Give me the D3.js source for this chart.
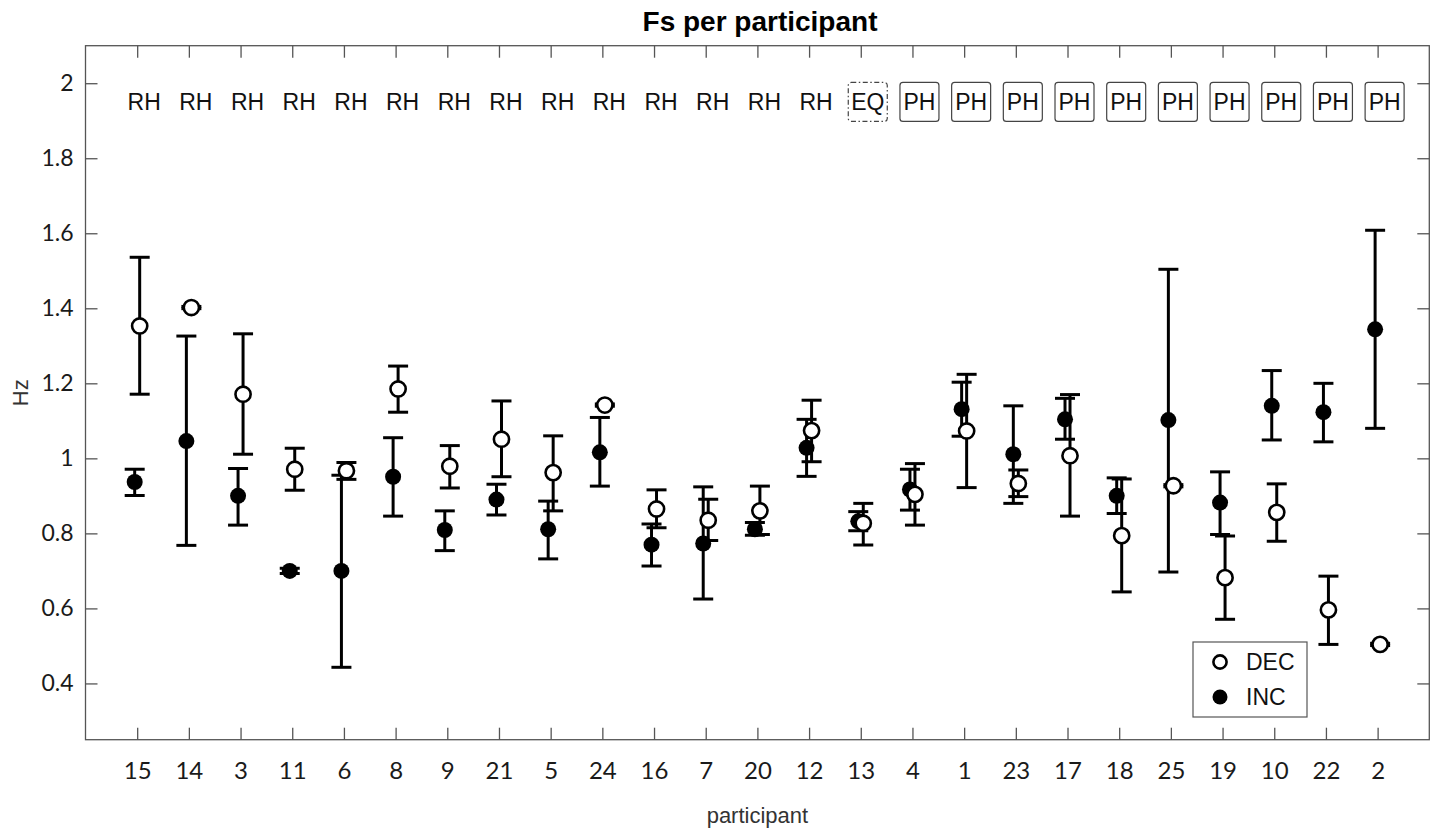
<!DOCTYPE html>
<html>
<head>
<meta charset="utf-8">
<script src="https://cdn.jsdelivr.net/npm/d3@7"></script>
<style>
  html, body { margin: 0; padding: 0; background: #fff; }
  svg { display: block; }
</style>
</head>
<body>
<svg id="chart" width="1434" height="828"></svg>
<script>
// ---- data ----
const participants = ["15","14","3","11","6","8","9","21","5","24","16","7","20","12","13","4","1","23","17","18","25","19","10","22","2"];
const groups = ["RH","RH","RH","RH","RH","RH","RH","RH","RH","RH","RH","RH","RH","RH","EQ","PH","PH","PH","PH","PH","PH","PH","PH","PH","PH"];

const decMean = [1.353,1.402,1.171,0.971,0.967,1.185,0.979,1.051,0.962,1.142,0.865,0.835,0.860,1.074,0.827,0.904,1.073,0.933,1.007,0.794,0.927,0.682,0.856,0.596,0.504];
const decLow  = [1.171,1.399,1.011,0.915,0.944,1.123,0.921,0.951,0.860,1.139,0.815,0.781,0.797,0.991,0.769,0.822,0.922,0.898,0.846,0.644,0.924,0.571,0.779,0.504,0.501];
const decHigh = [1.536,1.405,1.332,1.027,0.989,1.246,1.034,1.153,1.060,1.145,0.916,0.891,0.926,1.155,0.880,0.986,1.224,0.969,1.170,0.945,0.930,0.793,0.932,0.686,0.507];

const incMean = [0.937,1.046,0.900,0.700,0.700,0.951,0.809,0.890,0.811,1.016,0.770,0.773,0.811,1.028,0.832,0.917,1.131,1.011,1.104,0.900,1.102,0.882,1.140,1.123,1.344];
const incLow  = [0.901,0.768,0.822,0.693,0.443,0.846,0.754,0.849,0.732,0.926,0.713,0.625,0.795,0.952,0.807,0.862,1.059,0.880,1.051,0.853,0.697,0.797,1.049,1.044,1.080];
const incHigh = [0.971,1.326,0.973,0.707,0.955,1.055,0.860,0.931,0.886,1.109,0.825,0.924,0.829,1.104,0.858,0.971,1.203,1.140,1.160,0.948,1.504,0.964,1.234,1.200,1.608];

const yTicks = [0.4,0.6,0.8,1,1.2,1.4,1.6,1.8,2];
const yTickLabels = ["0.4","0.6","0.8","1","1.2","1.4","1.6","1.8","2"];
const seriesNames = ["DEC","INC"];

// ---- layout ----
const svg = d3.select("#chart");
const L = 85.5, R = 1429.3, T = 45.7, B = 739.7;
const x = d3.scaleLinear().domain([-1, 25]).range([L, R]);
const y = d3.scaleLinear().domain([0.25, 2.1]).range([B, T]);
const idx = d3.range(participants.length);
const axisColor = "#555";
const tickFont = "Lato, 'DejaVu Sans', sans-serif";
const textFont = "'Liberation Sans', Arial, sans-serif";

// frame
svg.append("rect").attr("x", L).attr("y", T).attr("width", R - L).attr("height", B - T)
  .attr("fill", "none").attr("stroke", axisColor).attr("stroke-width", 1.3);

// axes
function styleAxis(size) {
  return g => {
    g.select(".domain").remove();
    g.selectAll(".tick line").attr("stroke", axisColor).attr("stroke-width", 1.3);
    g.selectAll(".tick text").attr("fill", "#1a1a1a").style("font-family", tickFont).style("font-size", size + "px");
  };
}
svg.append("g").attr("transform", `translate(${L},0)`)
  .call(d3.axisLeft(y).tickValues(yTicks).tickFormat((d, i) => yTickLabels[i]).tickSize(-12).tickPadding(12))
  .call(styleAxis(23));
svg.append("g").attr("transform", `translate(${R},0)`)
  .call(d3.axisRight(y).tickValues(yTicks).tickFormat("").tickSize(-12))
  .call(styleAxis(23));
svg.append("g").attr("transform", `translate(0,${B})`)
  .call(d3.axisBottom(x).tickValues(idx).tickFormat(i => participants[i]).tickSize(-12).tickPadding(22))
  .call(styleAxis(24));
svg.append("g").attr("transform", `translate(0,${T})`)
  .call(d3.axisTop(x).tickValues(idx).tickFormat("").tickSize(-12))
  .call(styleAxis(24));

// group labels
const lblY = y(1.95);
const lab = svg.append("g");
idx.forEach(i => {
  const cx = x(i) + 7;
  if (groups[i] !== "RH") {
    lab.append("rect").attr("x", cx - 19.5).attr("y", lblY - 19.5).attr("width", 39).attr("height", 39)
      .attr("rx", 3).attr("fill", "none").attr("stroke", "#444").attr("stroke-width", 1.2)
      .attr("stroke-dasharray", groups[i] === "EQ" ? "5,2.5,1.5,2.5" : null);
  }
  lab.append("text").attr("x", cx).attr("y", lblY).attr("text-anchor", "middle")
    .attr("dominant-baseline", "central").style("font-family", textFont).style("font-size", "23px")
    .attr("fill", "#111").text(groups[i]);
});

// error bars + markers
const off = 2.5 / (x(1) - x(0));
function drawSeries(mean, low, high, dx, filled) {
  const g = svg.append("g");
  idx.forEach(i => {
    const cx = x(i + dx);
    g.append("line").attr("x1", cx).attr("x2", cx).attr("y1", y(low[i])).attr("y2", y(high[i]))
      .attr("stroke", "#000").attr("stroke-width", 3);
    [low[i], high[i]].forEach(v => {
      g.append("line").attr("x1", cx - 10).attr("x2", cx + 10).attr("y1", y(v)).attr("y2", y(v))
        .attr("stroke", "#000").attr("stroke-width", 3);
    });
  });
  g.selectAll("circle").data(idx).join("circle")
    .attr("cx", i => x(i + dx)).attr("cy", i => y(mean[i]))
    .attr("r", filled ? 8 : 7.6)
    .attr("fill", filled ? "#000" : "#fff")
    .attr("stroke", "#000").attr("stroke-width", filled ? 0 : 2.6);
}
drawSeries(incMean, incLow, incHigh, -off, true);
drawSeries(decMean, decLow, decHigh, off, false);

// legend
const lg = svg.append("g");
lg.append("rect").attr("x", 1193).attr("y", 642).attr("width", 114).attr("height", 75)
  .attr("fill", "#fff").attr("stroke", axisColor).attr("stroke-width", 1.2);
seriesNames.forEach((n, k) => {
  const cy = 662 + k * 35;
  lg.append("circle").attr("cx", 1220).attr("cy", cy).attr("r", k === 0 ? 6.6 : 7.5)
    .attr("fill", k === 0 ? "#fff" : "#000").attr("stroke", "#000").attr("stroke-width", k === 0 ? 2.6 : 0);
  lg.append("text").attr("x", 1246).attr("y", cy).attr("dominant-baseline", "central")
    .style("font-family", textFont).style("font-size", "23px").attr("fill", "#111").text(n);
});

// titles
svg.append("text").attr("x", 760).attr("y", 31).attr("text-anchor", "middle")
  .style("font-family", textFont).style("font-size", "28px").style("font-weight", "bold")
  .attr("fill", "#000").text("Fs per participant");
svg.append("text").attr("x", (L + R) / 2).attr("y", 815).attr("text-anchor", "middle")
  .attr("dominant-baseline", "central").style("font-family", textFont).style("font-size", "22px")
  .attr("fill", "#333").text("participant");
svg.append("text").attr("transform", `translate(20,${(T + B) / 2}) rotate(-90)`).attr("text-anchor", "middle")
  .attr("dominant-baseline", "central").style("font-family", textFont).style("font-size", "22px")
  .attr("fill", "#333").text("Hz");
</script>
</body>
</html>
